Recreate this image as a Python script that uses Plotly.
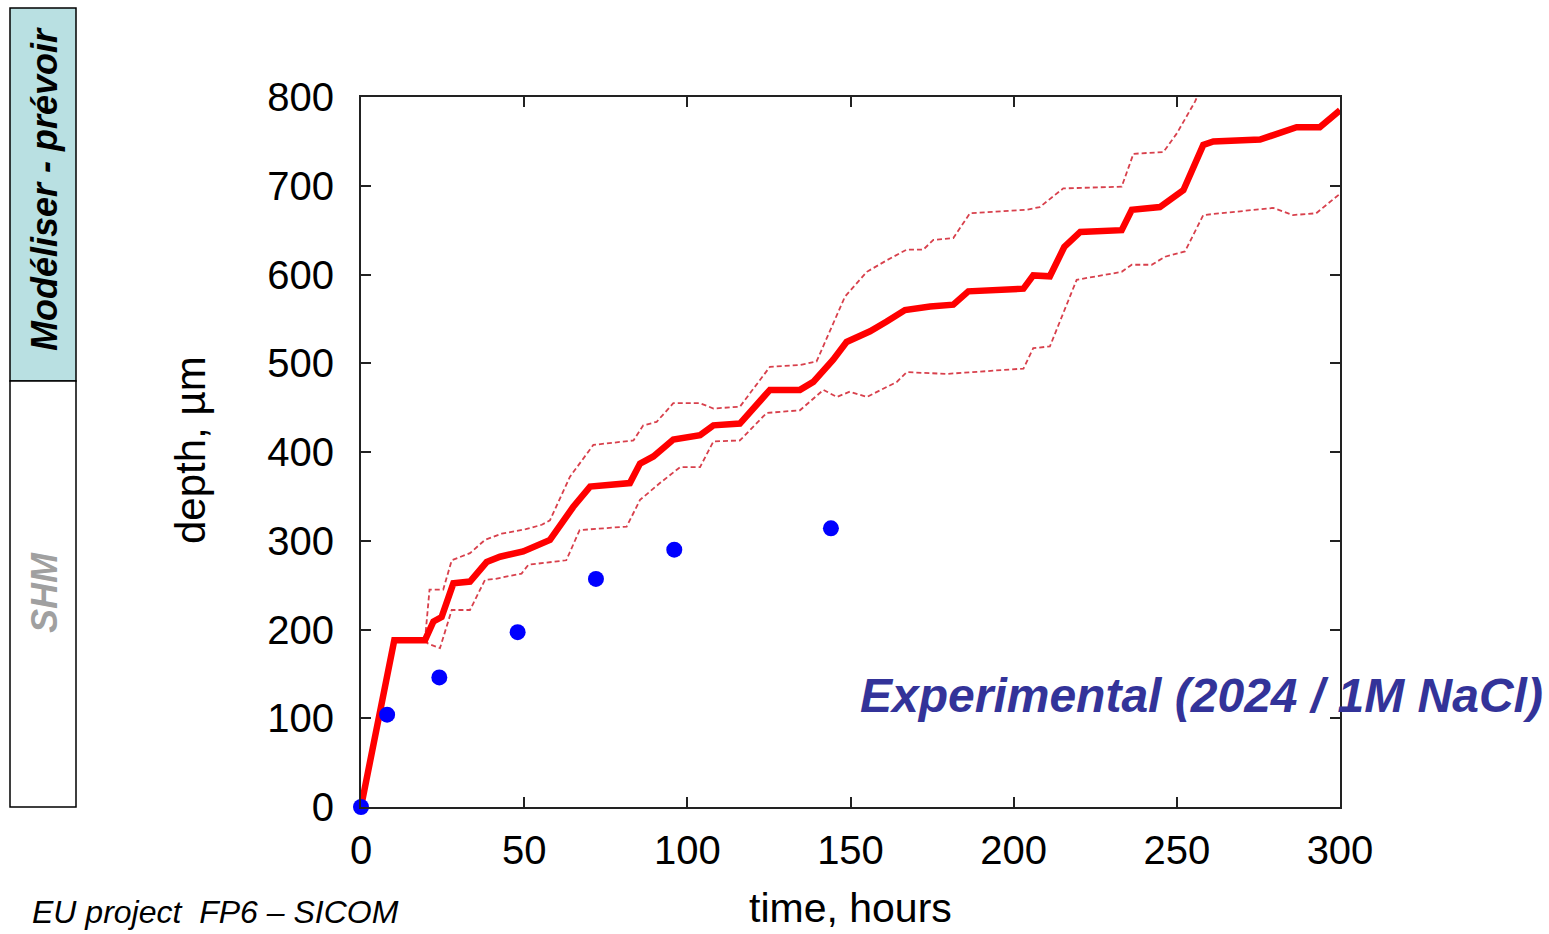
import plotly.graph_objects as go

# Modelled penetration depth (mean curve) vs. time
time_model = [0, 10.2, 19.6, 22.2, 24.7, 28.3, 33.4, 38.5, 42.6, 49.7, 57.9, 65, 70.2,
              82.4, 85.5, 89.6, 95.7, 103.9, 108, 116.1, 125.3, 134.5, 138.6, 144.7,
              148.8, 156, 161.1, 166.7, 174.4, 181.5, 186.1, 203, 206, 211.1, 215.5,
              220.4, 233.1, 236.2, 244.8, 252, 258.1, 261.2, 275.5, 281.6, 286.7,
              293.8, 300]
depth_model = [0, 188, 188, 209, 214, 252, 254, 276, 282, 288, 301, 338, 361,
               365, 387, 395, 414, 419, 430, 432, 470, 470, 479, 504,
               524, 536, 547, 560, 564, 566, 581, 584, 599, 598, 631,
               648, 650, 673, 676, 695, 746, 750, 752, 759, 766,
               766, 785]

# Upper envelope
time_upper = [19.6, 21, 25.2, 27.8, 33.4, 38, 43.1, 50.5, 55.4, 57.9, 64, 71.2, 83.5,
              86.5, 90.6, 95.7, 103.9, 108, 116.1, 125.3, 134.5, 139.6, 148.3, 155,
              161.1, 167.2, 172.3, 175.4, 181.5, 186.6, 204, 208, 215.2, 233.1, 236.7,
              245.9, 250, 255.6, 258.5]
depth_upper = [188, 245, 245, 278, 286, 301, 308, 313, 318, 323, 372, 408, 413,
               430, 434, 455, 455, 449, 451, 496, 498, 502, 575, 603,
               616, 628, 628, 639, 641, 669, 673, 676, 697, 699, 736,
               738, 759, 795, 820]

# Lower envelope
time_lower = [19.6, 20.6, 24.2, 27.8, 33.4, 38, 41.1, 49.2, 51.3, 62.9, 67, 81.4, 85.5,
              91.6, 97.8, 103.9, 108, 116.1, 124.3, 134.5, 141.7, 145.8, 149.8, 155,
              164.2, 167.2, 179.5, 203, 206, 211.1, 219.3, 233.1, 236.2, 242.3, 246.4,
              252.5, 258.1, 269.3, 279.5, 285.6, 292.7, 300]
depth_lower = [188, 184, 179, 222, 222, 256, 257, 263, 273, 278, 312, 316, 346,
               365, 383, 383, 412, 413, 444, 447, 470, 462, 468, 462,
               479, 490, 488, 494, 517, 519, 594, 603, 611, 611, 620,
               626, 667, 671, 675, 667, 669, 691]

# Experimental points
time_exp = [0, 8, 24, 48, 72, 96, 144]
depth_exp = [0, 104, 146, 197, 257, 290, 314]

x_ticks = [0, 50, 100, 150, 200, 250, 300]
y_ticks = [0, 100, 200, 300, 400, 500, 600, 700, 800]

W, H = 1549, 934
L, R, T, B = 361, 1340, 97, 807


def px(x):
    return (x - L) / (R - L)


def py(y):
    return (B - y) / (B - T)


FONT = "Liberation Sans, Arial, sans-serif"

fig = go.Figure()
env_line = dict(color="#d8404c", width=1.8, dash="5px,3px")
fig.add_trace(go.Scatter(x=time_upper, y=depth_upper, mode="lines", line=env_line,
                         showlegend=False, hoverinfo="skip"))
fig.add_trace(go.Scatter(x=time_lower, y=depth_lower, mode="lines", line=env_line,
                         showlegend=False, hoverinfo="skip"))
fig.add_trace(go.Scatter(x=time_model, y=depth_model, mode="lines",
                         line=dict(color="#ff0000", width=6.5),
                         showlegend=False))
fig.add_trace(go.Scatter(x=time_exp, y=depth_exp, mode="markers",
                         marker=dict(color="#0000ff", size=16),
                         cliponaxis=False, showlegend=False))

axis_common = dict(
    showgrid=False, zeroline=False, showline=True, linecolor="#222222",
    linewidth=2, mirror="ticks", ticks="inside", ticklen=10, tickwidth=1.5,
    tickcolor="#222222", tickfont=dict(family=FONT, size=40, color="black"),
)
fig.update_xaxes(range=[0, 300], tickvals=x_ticks, ticklabelstandoff=7, **axis_common)
fig.update_yaxes(range=[0, 800], tickvals=y_ticks, ticklabelstandoff=17, **axis_common)

shapes = [
    dict(type="rect", xref="paper", yref="paper",
         x0=px(10), x1=px(76), y0=py(381), y1=py(8),
         fillcolor="#b9e0e2", line=dict(color="black", width=1.5), layer="below"),
    dict(type="rect", xref="paper", yref="paper",
         x0=px(10), x1=px(76), y0=py(807), y1=py(381),
         fillcolor="white", line=dict(color="black", width=1.5), layer="below"),
]

annotations = [
    dict(text="time, hours", xref="paper", yref="paper", x=px(850), y=py(908),
         showarrow=False, font=dict(family=FONT, size=41, color="black"),
         xanchor="center", yanchor="middle"),
    dict(text="depth, \u00b5m", xref="paper", yref="paper", x=px(190), y=py(450),
         showarrow=False, textangle=-90,
         font=dict(family=FONT, size=42, color="black"),
         xanchor="center", yanchor="middle"),
    dict(text="<b><i>Experimental (2024 / 1M NaCl)</i></b>", xref="paper", yref="paper",
         x=px(1545), y=py(695), showarrow=False,
         font=dict(family=FONT, size=48, color="#333399"),
         xanchor="right", yanchor="middle"),
    dict(text="<i>EU project  FP6 \u2013 SICOM</i>", xref="paper", yref="paper",
         x=px(30), y=py(912), showarrow=False,
         font=dict(family=FONT, size=32, color="black"),
         xanchor="left", yanchor="middle"),
    dict(text="<b><i>Mod\u00e9liser - pr\u00e9voir</i></b>", xref="paper", yref="paper",
         x=px(44), y=py(189), showarrow=False, textangle=-90,
         font=dict(family=FONT, size=36, color="black"),
         xanchor="center", yanchor="middle"),
    dict(text="<b><i>SHM</i></b>", xref="paper", yref="paper",
         x=px(44), y=py(593), showarrow=False, textangle=-90,
         font=dict(family=FONT, size=36, color="#a0a0a0"),
         xanchor="center", yanchor="middle"),
]

fig.update_layout(
    width=W, height=H,
    margin=dict(l=L, r=W - R, t=T, b=H - B),
    paper_bgcolor="white", plot_bgcolor="white",
    shapes=shapes, annotations=annotations,
)

fig.write_html("out.html")
